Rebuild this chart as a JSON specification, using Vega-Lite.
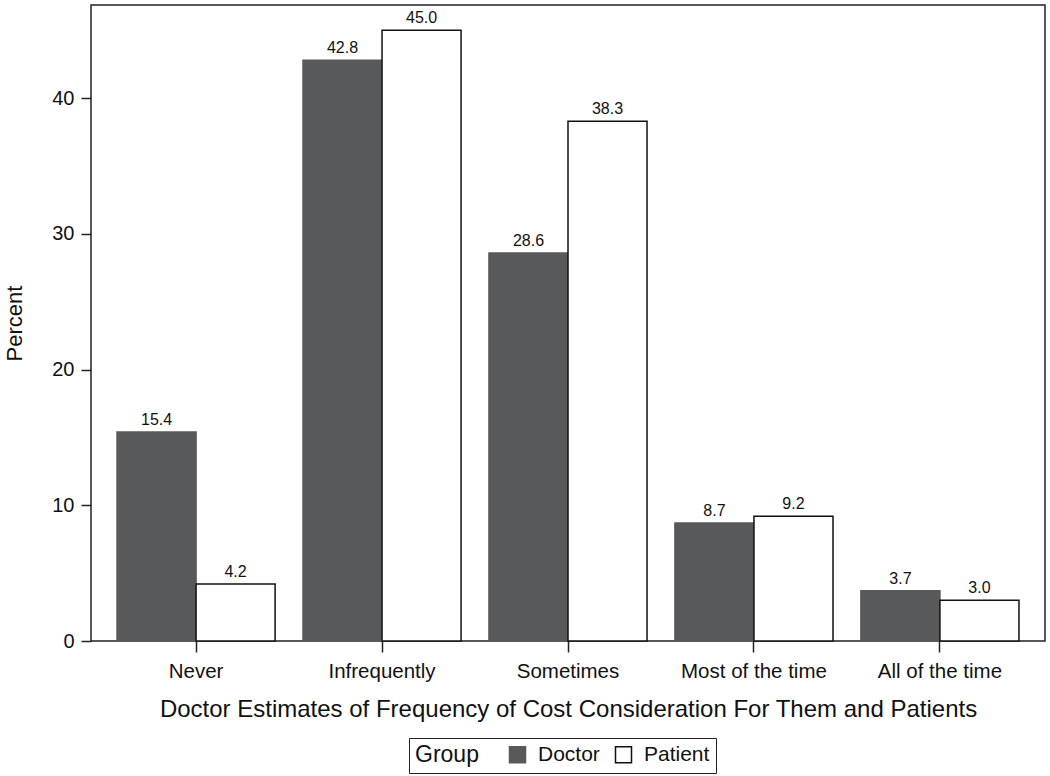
{
  "$schema": "https://vega.github.io/schema/vega-lite/v6.json",
  "autosize": {"type": "none"},
  "padding": {"left": 91, "top": 5, "right": 5, "bottom": 135},
  "width": 954,
  "height": 636,
  "background": "white",
  "config": {
    "font": "Liberation Sans",
    "view": {"stroke": "#222", "strokeWidth": 1.5},
    "axis": {"grid": false, "domain": false, "tickColor": "#222", "tickWidth": 1.5, "labelColor": "#111", "titleColor": "#111", "titleFontWeight": "normal"}
  },
  "data": {
    "values": [
      {"freq": "Never", "group": "Doctor", "pct": 15.4},
      {"freq": "Never", "group": "Patient", "pct": 4.2},
      {"freq": "Infrequently", "group": "Doctor", "pct": 42.8},
      {"freq": "Infrequently", "group": "Patient", "pct": 45.0},
      {"freq": "Sometimes", "group": "Doctor", "pct": 28.6},
      {"freq": "Sometimes", "group": "Patient", "pct": 38.3},
      {"freq": "Most of the time", "group": "Doctor", "pct": 8.7},
      {"freq": "Most of the time", "group": "Patient", "pct": 9.2},
      {"freq": "All of the time", "group": "Doctor", "pct": 3.7},
      {"freq": "All of the time", "group": "Patient", "pct": 3.0}
    ]
  },
  "encoding": {
    "x": {
      "field": "freq", "type": "nominal",
      "sort": ["Never", "Infrequently", "Sometimes", "Most of the time", "All of the time"],
      "scale": {"paddingInner": 0.15, "paddingOuter": 0.14},
      "axis": {"title": "Doctor Estimates of Frequency of Cost Consideration For Them and Patients", "labelAngle": 0, "labelFontSize": 20.5, "titleFontSize": 24, "tickSize": 11, "labelPadding": 9, "titlePadding": 16}
    },
    "xOffset": {"field": "group", "type": "nominal", "sort": ["Doctor", "Patient"]},
    "y": {
      "field": "pct", "type": "quantitative",
      "scale": {"domain": [0, 46.87], "nice": false},
      "axis": {"title": "Percent", "values": [0, 10, 20, 30, 40], "labelFontSize": 20, "titleFontSize": 22, "tickSize": 10, "labelPadding": 7, "titlePadding": 25}
    }
  },
  "layer": [
    {
      "mark": {"type": "bar", "stroke": "#111", "strokeWidth": 1.5},
      "encoding": {
        "fill": {
          "field": "group", "type": "nominal",
          "scale": {"domain": ["Doctor", "Patient"], "range": ["#58595b", "#ffffff"]},
          "legend": {
            "title": "Group", "orient": "none", "direction": "horizontal",
            "legendX": 318, "legendY": 733,
            "titleOrient": "left", "titleFontSize": 23, "titleFontWeight": "normal", "titleColor": "#111", "titlePadding": 28,
            "labelFontSize": 21, "labelColor": "#111", "labelOffset": 10,
            "symbolType": "square", "symbolSize": 256, "symbolStrokeColor": "#111", "symbolStrokeWidth": 1.5,
            "strokeColor": "#222", "padding": 6, "columnPadding": 12
          }
        },
        "stroke": {
          "field": "group", "type": "nominal",
          "scale": {"domain": ["Doctor", "Patient"], "range": ["#58595b", "#111111"]},
          "legend": null
        }
      }
    },
    {
      "mark": {"type": "text", "baseline": "alphabetic", "dy": -7, "fontSize": 16, "color": "#111"},
      "encoding": {
        "text": {"field": "pct", "type": "quantitative", "format": ".1f"}
      }
    }
  ]
}
